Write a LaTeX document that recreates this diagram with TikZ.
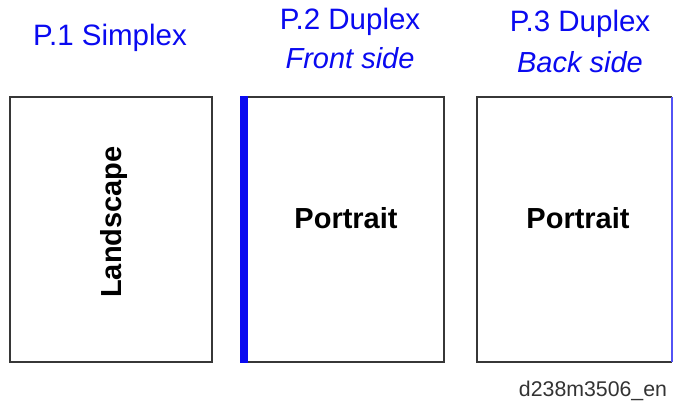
\documentclass[tikz,border=0pt]{standalone}
\usepackage{fontspec}
\setmainfont{Liberation Sans}
\definecolor{ttl}{RGB}{10,10,240}
\definecolor{edge}{RGB}{55,55,55}
\begin{document}
\begin{tikzpicture}[x=1pt,y=-1pt,
  title/.style={text=ttl,font=\fontsize{29.5}{31}\selectfont,inner sep=0pt,anchor=center},
  ititle/.style={title,font=\fontsize{29}{31}\selectfont\itshape},
  pagebox/.style={draw=edge,line width=2pt},
  lbl/.style={font=\fontsize{29}{31}\selectfont\bfseries,inner sep=0pt}]
\useasboundingbox (0,0) rectangle (674,406);
\fill[white] (0,0) rectangle (674,406);
% titles
\node[title] (t1) at (110,38) {P.1 Simplex};
\node[title] (t2) at (350,22) {P.2 Duplex};
\node[ititle] (t2b) at (350,58) {Front side};
\node[title] (t3) at (580,24) {P.3 Duplex};
\node[ititle] (t3b) at (580,62) {Back side};
% boxes
\draw[pagebox] (10,97) rectangle (212,362);
\draw[pagebox] (242,97) rectangle (444,362);
\fill[ttl] (240,96) rectangle (248,363);
\draw[edge,line width=2pt] (672,97) -- (477,97) -- (477,362) -- (672,362);
\draw[ttl!70,line width=1.2pt] (672,97) -- (672,362);
% labels
\node[lbl,rotate=90] (l1) at (114,222) {Landscape};
\node[lbl] (l2) at (346,218) {Portrait};
\node[lbl] (l3) at (578,218) {Portrait};
\node[font=\fontsize{21.3}{23}\selectfont,text=black!80,inner sep=0pt] (cap) at (593,391) {d238m3506\_en};
\end{tikzpicture}
\end{document}
